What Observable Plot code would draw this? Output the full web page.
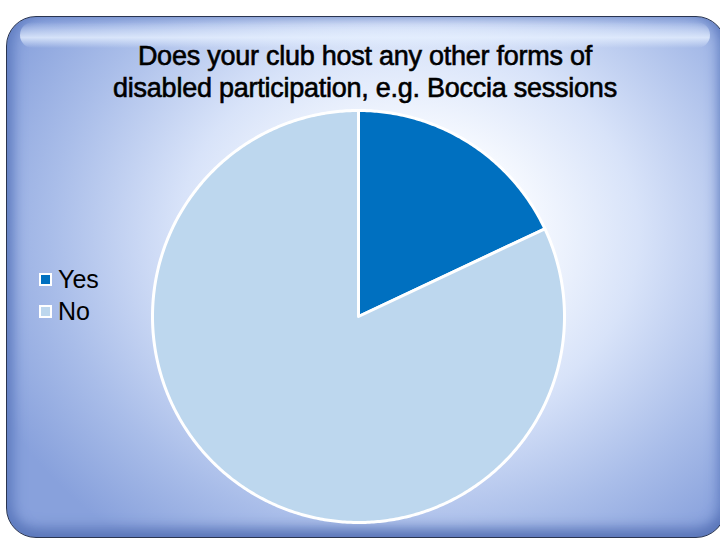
<!DOCTYPE html>
<html>
<head>
<meta charset="utf-8">
<script src="https://cdn.jsdelivr.net/npm/d3@7"></script>
<script src="https://cdn.jsdelivr.net/npm/@observablehq/plot@0.6"></script>
<style>
  html, body { margin: 0; padding: 0; background: #ffffff; }
  #wrap { position: relative; width: 720px; height: 540px; overflow: hidden; font-family: "Liberation Sans", Arial, sans-serif; }
  #panel {
    position: absolute; left: 6px; top: 16px; width: 720px; height: 522px;
    border: 1.5px solid #2a3550; border-radius: 30px; box-sizing: border-box;
    background: radial-gradient(ellipse 64% 74% at 56% 42%, #ffffff 0%, #f7faff 25%, #d8e3f9 50%, #a9bde9 78%, #88a1dc 100%);
    box-shadow: inset 10px 0 14px -4px #5f7cc0, inset 0 -14px 14px -6px #5b76b8, inset -10px 0 14px -4px #5f7cc0;
  }
  #gloss {
    position: absolute; left: 20px; top: 22px; width: 690px; height: 26px; border-radius: 20px;
    background: linear-gradient(to bottom, rgba(255,255,255,0) 0%, rgba(230,240,255,0.8) 60%, rgba(255,255,255,0) 100%);
  }
  #title {
    position: absolute; left: 0; width: 730px; top: 40px; text-align: center;
    font-size: 27px; line-height: 32px; color: #000; letter-spacing: -0.25px; font-weight: normal;
    -webkit-text-stroke: 0.6px #000;
  }
  #legend { position: absolute; left: 39px; top: 263px; font-size: 25px; color: #000; }
  .item { display: flex; align-items: center; height: 32px; }
  .sw { width: 9px; height: 9px; border: 2px solid #fff; margin-right: 6px; }
  #chart { position: absolute; left: 0; top: 0; }
</style>
</head>
<body>
<div id="wrap">
  <div id="panel"></div>
  <div id="gloss"></div>
  <div id="chart"></div>
  <div id="title">Does your club host any other forms of<br>disabled participation, e.g. Boccia sessions</div>
  <div id="legend"></div>
</div>
<script>
const categories = ["Yes", "No"];
const values = [18, 82];
const colors = ["#0070c0", "#bdd7ee"];

const arcs = d3.pie().sort(null).value(d => d)(values);
function slicePolygon(a0, a1) {
  const pts = [[0, 0]];
  const n = Math.max(2, Math.ceil((a1 - a0) / 0.01));
  for (let i = 0; i <= n; i++) {
    const a = a0 + (a1 - a0) * i / n;
    pts.push([Math.sin(a), Math.cos(a)]);
  }
  pts.push([0, 0]);
  return pts;
}
const features = arcs.map((a, i) => ({
  type: "Feature",
  properties: { category: categories[i], value: values[i] },
  geometry: { type: "Polygon", coordinates: [slicePolygon(a.startAngle, a.endAngle)] }
}));

const chart = Plot.plot({
  width: 720,
  height: 540,
  marginLeft: 152,
  marginRight: 156,
  marginTop: 110,
  marginBottom: 18,
  style: { background: "transparent", overflow: "visible" },
  projection: {
    type: "reflect-y",
    domain: { type: "Polygon", coordinates: [[[-1, -1], [1, -1], [1, 1], [-1, 1], [-1, -1]]] }
  },
  color: { domain: categories, range: colors },
  marks: [
    Plot.geo(features, { fill: d => d.properties.category, stroke: "#ffffff", strokeWidth: 3, strokeLinejoin: "round" })
  ]
});
document.getElementById("chart").appendChild(chart);

const legend = document.getElementById("legend");
categories.forEach((c, i) => {
  const it = document.createElement("div");
  it.className = "item";
  it.innerHTML = `<span class="sw" style="background:${colors[i]}"></span><span>${c}</span>`;
  legend.appendChild(it);
});
</script>
</body>
</html>
